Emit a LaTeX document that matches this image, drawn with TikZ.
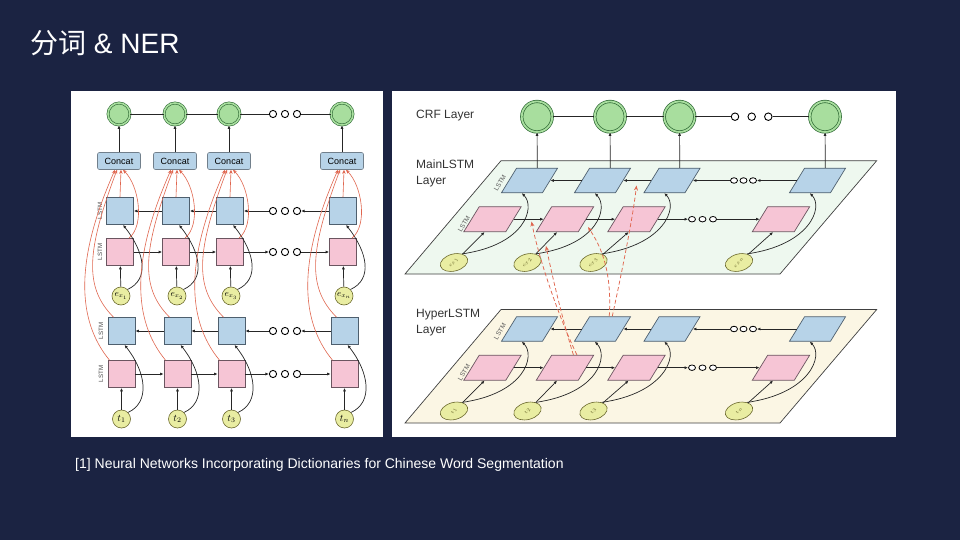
\documentclass[tikz,border=0pt]{standalone}
\usepackage{fontspec}
\setmainfont{Liberation Sans}
\setsansfont{Liberation Sans}
\newfontfamily\cjk{Noto Sans CJK SC}
\usetikzlibrary{arrows.meta,shapes.geometric}
\definecolor{bg}{HTML}{1B2342}
\definecolor{bluef}{HTML}{B7D3E8}
\definecolor{blued}{HTML}{4E5F6E}
\definecolor{pinkf}{HTML}{F6C5D5}
\definecolor{pinkd}{HTML}{6B5560}
\definecolor{greenf}{HTML}{A8DE9E}
\definecolor{greend}{HTML}{2F6A35}
\definecolor{yelf}{HTML}{E9EDA2}
\definecolor{yeld}{HTML}{6C6A2E}
\definecolor{redl}{HTML}{E0664F}
\definecolor{mainf}{HTML}{EEF8EF}
\definecolor{hypf}{HTML}{FBF6E4}
\begin{document}
\begin{tikzpicture}[x=1pt,y=-1pt,
  lblue/.style={rectangle,draw=blued,fill=bluef,minimum width=27pt,minimum height=27pt,inner sep=0,line width=0.7pt},
  lpink/.style={rectangle,draw=pinkd,fill=pinkf,minimum width=27pt,minimum height=27pt,inner sep=0,line width=0.7pt},
  lgreen/.style={circle,draw=greend,fill=greenf,double=greenf,double distance=1.6pt,line width=0.6pt,minimum size=22pt,inner sep=0},
  rgreen/.style={circle,draw=greend,fill=greenf,double=greenf,double distance=1.8pt,line width=0.7pt,minimum size=30.5pt,inner sep=0},
  dotc/.style={circle,draw=black,fill=white,line width=0.9pt,minimum size=7.2pt,inner sep=0},
  rdot/.style={ellipse,draw=black,fill=white,line width=0.8pt,minimum width=7pt,minimum height=5.5pt,inner sep=0},
  ycirc/.style={circle,draw=yeld,fill=yelf,minimum size=18pt,inner sep=0,line width=0.6pt,font=\fontsize{9}{9}\selectfont},
  concat/.style={rectangle,draw=blued!80,fill=bluef,rounded corners=2pt,minimum width=43pt,minimum height=17pt,inner sep=0,line width=0.6pt,font=\fontsize{9}{9}\selectfont},
  arr/.style={-{Latex[length=3.5pt,width=3pt]},line width=0.7pt,black!85},
  redarr/.style={-{Stealth[length=4pt,width=3.5pt]},redl,line width=0.6pt},
  reddash/.style={-{Stealth[length=5pt,width=4pt]},redl,line width=0.75pt,dash pattern=on 4pt off 2.5pt},
  llab/.style={font=\fontsize{6.2}{6.2}\selectfont,rotate=90,text=black!70,inner sep=0},
  rlab/.style={font=\fontsize{6.5}{6.5}\selectfont,rotate=59,text=black!65,inner sep=0},
  rblue/.style={rectangle,draw=blued,fill=bluef,minimum width=41pt,minimum height=24.5pt,xslant=0.615,inner sep=0,line width=0.7pt},
  rpink/.style={rectangle,draw=pinkd,fill=pinkf,minimum width=42pt,minimum height=25pt,xslant=0.615,inner sep=0,line width=0.7pt},
  rell/.style={ellipse,draw=yeld,fill=yelf,minimum width=28pt,minimum height=17pt,rotate=15,inner sep=0,line width=0.6pt},
  elab/.style={font=\fontsize{5.5}{5.5}\selectfont,rotate=60,text=yeld,inner sep=0},
  ltxt/.style={font=\fontsize{12}{16}\selectfont,text=black!80,align=left,anchor=north west,inner sep=0}
]
\fill[bg] (0,0) rectangle (960,540);
\useasboundingbox (0,0) rectangle (960,540);
\fill[white] (71,91) rectangle (383,437);
\fill[white] (392,91) rectangle (896,437);

% title and footnote
\node[anchor=west,text=white,font=\fontsize{28}{30}\selectfont,inner sep=0] (title) at (30,43) {{\cjk 分词} \& NER};
\node[anchor=west,text=white,font=\fontsize{14}{16}\selectfont,inner sep=0] (foot) at (75,465) {[1] Neural Networks Incorporating Dictionaries for Chinese Word Segmentation};

% ================= left panel =================
\foreach \i/\X/\s in {1/120/1,2/176/2,3/230/3,4/343/n}{
  \node[lgreen] (g\i) at (\X-1,114) {};
  \node[concat] (c\i) at (\X-1,161) {Concat};
  \node[lblue] (b\i) at (\X,211) {};
  \node[lpink] (p\i) at (\X,252) {};
  \node[ycirc] (e\i) at (\X+1,296) {$e_{x_\s}$};
  \node[lblue] (B\i) at (\X+1.5,331) {};
  \node[lpink] (P\i) at (\X+1.5,374) {};
  \node[ycirc,font=\fontsize{10}{10}\selectfont] (t\i) at (\X+1.5,419) {$t_\s$};
}
\foreach \j/\x in {1/273,2/285,3/297}{
  \node[dotc] (gd\j) at (\x,114) {};
  \node[dotc] (bd\j) at (\x,211) {};
  \node[dotc] (pd\j) at (\x,252) {};
  \node[dotc] (Bd\j) at (\x,331) {};
  \node[dotc] (Pd\j) at (\x,374) {};
}
\node[llab] (lab1) at (100,211) {LSTM};
\node[llab] (lab2) at (100,252) {LSTM};
\node[llab] (lab3) at (101,331) {LSTM};
\node[llab] (lab4) at (101,374) {LSTM};

\draw[line width=0.8pt,black!85] (g1) -- (g2) -- (g3) -- (gd1);
\draw[line width=0.8pt,black!85] (gd3) -- (g4);
\foreach \i in {1,2,3,4}{
  \draw[arr] (c\i) -- (g\i);
  \draw[arr] (e\i) -- (p\i);
  \draw[arr] (t\i) -- (P\i);
  \draw[arr] (e\i.north east) .. controls +(22,-10) and +(22,28) .. ([xshift=3pt]b\i.south);
  \draw[arr] (t\i.north east) .. controls +(22,-10) and +(22,28) .. ([xshift=3pt]B\i.south);
}
\draw[arr] (b2) -- (b1); \draw[arr] (b3) -- (b2); \draw[arr] (b4) -- (bd3); \draw[arr] (bd1) -- (b3);
\draw[arr] (B2) -- (B1); \draw[arr] (B3) -- (B2); \draw[arr] (B4) -- (Bd3); \draw[arr] (Bd1) -- (B3);
\draw[arr] (p1) -- (p2); \draw[arr] (p2) -- (p3); \draw[arr] (p3) -- (pd1); \draw[arr] (pd3) -- (p4);
\draw[arr] (P1) -- (P2); \draw[arr] (P2) -- (P3); \draw[arr] (P3) -- (Pd1); \draw[arr] (Pd3) -- (P4);

% red connections to Concat
\foreach \i in {1,2,3,4}{
  \draw[redarr] (b\i.north) -- ([xshift=2pt]c\i.south);
  \draw[redarr] ([xshift=9pt]p\i.north) .. controls +(16,-13) and +(16,16) .. ([xshift=4pt]c\i.south);
  \draw[redarr] ([xshift=-8pt]B\i.north) .. controls +(-30,-30) and +(-30,80) .. ([xshift=-2pt]c\i.south);
  \draw[redarr] ([xshift=-12pt]P\i.north) .. controls +(-33,-40) and +(-40,90) .. ([xshift=-4pt]c\i.south);
}

% ================= right panel =================
\draw[fill=mainf,draw=black!75,line width=0.7pt] (501,160.7) -- (876.7,160.7) -- (780,274) -- (405,274) -- cycle;
\draw[fill=hypf,draw=black!75,line width=0.7pt] (501,309.5) -- (876.7,309.5) -- (780,423) -- (405,423) -- cycle;

\node[ltxt] (crf) at (416,110) {CRF Layer};
\node[ltxt] (mainl) at (416,160) {MainLSTM\\Layer};
\node[ltxt] (hypl) at (416,309) {HyperLSTM\\Layer};

\foreach \i/\gx in {1/537,2/610,3/679.5,4/825}{
  \node[rgreen] (rg\i) at (\gx,116.7) {};
}
\foreach \j/\x in {1/735,2/751.7,3/768.3}{
  \node[dotc,minimum size=7.5pt] (rgd\j) at (\x,116.7) {};
}
\draw[line width=0.8pt,black!85] (rg1) -- (rg2) -- (rg3) -- (rgd1);
\draw[line width=0.8pt,black!85] (rgd3) -- (rg4);

\foreach \L/\dy in {m/0,h/148.5}{
  \foreach \i/\bx/\px/\ex in {1/529.5/492.5/454,2/602.5/565/527.5,3/672/636.5/593.5,4/817.5/781/739}{
    \node[rblue] (\L b\i) at (\bx,180.5+\dy) {};
    \node[rpink] (\L p\i) at (\px,219.2+\dy) {};
    \node[rell] (\L e\i) at (\ex,262.5+\dy) {};
    \draw[arr] (\L e\i) -- (\L p\i.south);
    \draw[arr] (\L e\i.north east) .. controls +(63,-9) and +(14,14) .. (\L b\i.south);
  }
  \node[rdot] (\L bd1) at (734,180.5+\dy) {};
  \node[rdot] (\L bd2) at (743.5,180.5+\dy) {};
  \node[rdot] (\L bd3) at (753,180.5+\dy) {};
  \node[rdot] (\L pd1) at (692,219.2+\dy) {};
  \node[rdot] (\L pd2) at (702.5,219.2+\dy) {};
  \node[rdot] (\L pd3) at (713,219.2+\dy) {};
  \draw[arr] (\L b2.west) -- (\L b1.east);
  \draw[arr] (\L b3.west) -- (\L b2.east);
  \draw[arr] (\L b4.west) -- (\L bd3);
  \draw[arr] (\L bd1) -- (\L b3.east);
  \draw[arr] (\L p1.east) -- (\L p2.west);
  \draw[arr] (\L p2.east) -- (\L p3.west);
  \draw[arr] (\L p3.east) -- (\L pd1);
  \draw[arr] (\L pd3) -- (\L p4.west);
  \node[rlab] (\L lb) at (500,183+\dy) {LSTM};
  \node[rlab] (\L lp) at (464,224+\dy) {LSTM};
}
\foreach \i/\s in {1/1,2/2,3/3,4/n}{
  \node[elab] (mel\i) at (me\i) {$e_{x_\s}$};
  \node[elab] (hel\i) at (he\i) {$t_\s$};
  \draw[arr] (mb\i.north) -- (rg\i);
}

% red dashed links between layers
\coordinate (rt1) at (531.5,221.5);
\coordinate (rt2) at (546,246);
\coordinate (rt3) at (588,227);
\coordinate (rt4) at (636.5,185.5);
\draw[reddash] ([xshift=4pt]hp2.north) .. controls +(-17,-35) and +(8,40) .. (rt1);
\draw[reddash] ([xshift=0.5pt]hp2.north) .. controls +(-11,-35) and +(6,29) .. (rt2);
\draw[reddash] ([xshift=-1pt]hb2.north) .. controls +(3,-47) and +(12,18) .. (rt3);
\draw[reddash] ([xshift=2pt]hb2.north) .. controls +(8,-37) and +(-4,35) .. (rt4);
\end{tikzpicture}
\end{document}
